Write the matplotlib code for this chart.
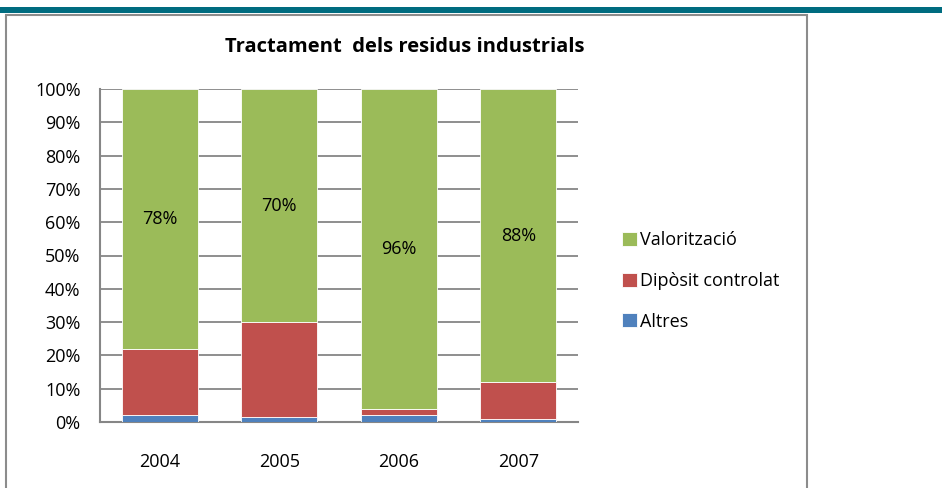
import matplotlib.pyplot as plt
from matplotlib.patches import Rectangle
import numpy as np

# data (percent of total)
years = ["2004", "2005", "2006", "2007"]
altres = [2.0, 1.5, 2.0, 1.0]
diposit = [20.0, 28.5, 2.0, 11.0]
valoritzacio = [78.0, 70.0, 96.0, 88.0]
val_labels = ["78%", "70%", "96%", "88%"]

series_names = ["Altres", "Dipòsit controlat", "Valorització"]
colors = ["#4F81BD", "#C0504D", "#9BBB59"]

plt.rcParams['font.family'] = ['Open Sans', 'DejaVu Sans']

W, H = 942, 488
fig = plt.figure(figsize=(W / 100, H / 100), dpi=100)

# teal band across the top and the chart frame
fig.patches.append(Rectangle((0, 1 - 13 / H), 1, 6 / H, transform=fig.transFigure,
                             facecolor="#006C80", edgecolor="none"))
fig.patches.append(Rectangle((6 / W, -0.01), 801 / W, 1 - 15 / H + 0.01,
                             transform=fig.transFigure, facecolor="none",
                             edgecolor="#8C8C8C", linewidth=1.5))

# plot area
ax = fig.add_axes([100 / W, (H - 422) / H, 478 / W, 333 / H])
x = np.arange(len(years))
bw = 0.64
bottom = np.zeros(len(years))
handles = []
for vals, name, col in zip([altres, diposit, valoritzacio], series_names, colors):
    b = ax.bar(x, vals, bw, bottom=bottom, color=col, edgecolor="white",
               linewidth=0.6, label=name, zorder=3)
    handles.append(b)
    bottom = bottom + np.array(vals)

# labels in the middle of the green segments
base = np.array(altres) + np.array(diposit)
for i, lab in enumerate(val_labels):
    ax.text(x[i], base[i] + valoritzacio[i] / 2, lab, ha="center", va="center",
            fontsize=13, color="black", zorder=4)

ax.set_xlim(-0.5, len(years) - 0.5)
ax.set_ylim(0, 100)
ax.set_yticks(np.arange(0, 101, 10))
ax.set_yticklabels([f"{v}%" for v in range(0, 101, 10)])
ax.set_xticks(x)
ax.set_xticklabels(years)
ax.tick_params(axis="both", length=0, labelsize=13, colors="black")
ax.tick_params(axis="y", pad=14)
ax.tick_params(axis="x", pad=22)
ax.yaxis.grid(True, color="#868686", linewidth=1.3, zorder=0)
ax.set_axisbelow(True)
for s in ["top", "right"]:
    ax.spines[s].set_visible(False)
for s in ["left", "bottom"]:
    ax.spines[s].set_color("#868686")
    ax.spines[s].set_linewidth(1.5)

fig.text(405 / W, 1 - 47 / H, "Tractament  dels residus industrials", ha="center",
         va="center", fontsize=14.5, fontweight="bold")

leg = fig.legend(handles[::-1], series_names[::-1], loc="center left",
                 bbox_to_anchor=(606 / W, 1 - 281 / H), frameon=False,
                 fontsize=13, handlelength=0.8, handleheight=0.8,
                 handletextpad=0.2, labelspacing=1.25)

fig.savefig("out.png", dpi=100)
